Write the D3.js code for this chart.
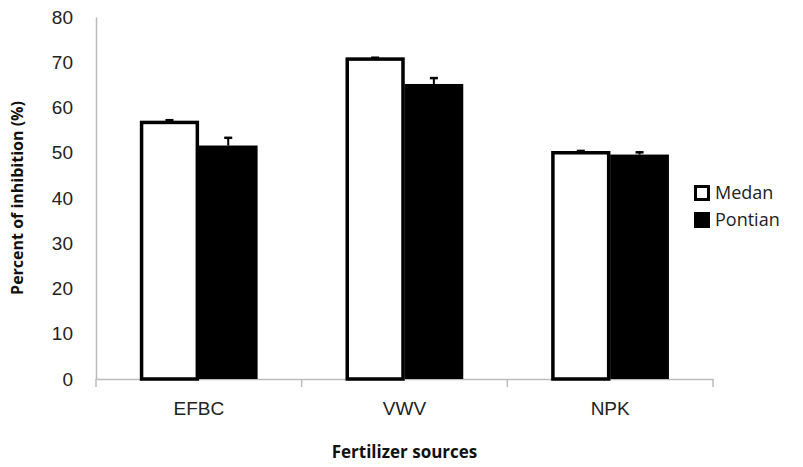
<!DOCTYPE html>
<html lang="en">
<head>
<meta charset="UTF-8">
<style>
  body { margin: 0; padding: 0; background: #fff; overflow: hidden; }
  svg { display: block; font-family: "Open Sans", Arial, sans-serif; }
  .tick text { fill: #222; font-size: 19px; }
</style>
</head>
<body>
<svg id="chart" width="803" height="467"></svg>
<script src="https://cdn.jsdelivr.net/npm/d3@7"></script>
<script>
  const categories = ["EFBC", "VWV", "NPK"];
  const series = ["Medan", "Pontian"];
  const medanValues = [56.7, 70.7, 50.0];
  const medanErrors = [0.5, 0.3, 0.4];
  const pontianValues = [51.6, 65.2, 49.6];
  const pontianErrors = [1.7, 1.3, 0.5];
  const yTicks = [0, 10, 20, 30, 40, 50, 60, 70, 80];

  const svg = d3.select("#chart");
  const margin = { left: 96, right: 90, top: 17, bottom: 88 };
  const width = 803, height = 467;

  const x = d3.scaleBand().domain(categories).range([margin.left, width - margin.right]);
  const xSub = d3.scaleBand().domain(series).range([0, x.bandwidth()]).paddingOuter(0.75).paddingInner(0);
  const y = d3.scaleLinear().domain([0, 80]).range([height - margin.bottom, margin.top]);

  // axes
  const yAxis = svg.append("g")
    .attr("transform", `translate(${margin.left},0)`)
    .call(d3.axisLeft(y).tickValues(yTicks).tickSize(0).tickPadding(23));
  yAxis.select(".domain").attr("stroke", "#bbb").attr("stroke-width", 1.5);

  const xAxis = svg.append("g")
    .attr("transform", `translate(0,${y(0)})`)
    .call(d3.axisBottom(x).tickSize(0).tickPadding(23));
  xAxis.select(".domain").attr("stroke", "#bbb").attr("stroke-width", 1.5);
  // category boundary ticks
  const bounds = categories.map(c => x(c)).concat([x.range()[1]]);
  svg.append("g").selectAll("line").data(bounds).join("line")
    .attr("x1", d => d).attr("x2", d => d)
    .attr("y1", y(0)).attr("y2", y(0) + 8)
    .attr("stroke", "#bbb").attr("stroke-width", 1.5);

  const rows = categories.map((c, i) => ({
    cat: c,
    bars: [
      { key: "Medan", v: medanValues[i], e: medanErrors[i] },
      { key: "Pontian", v: pontianValues[i], e: pontianErrors[i] }
    ]
  }));

  const groups = svg.append("g").selectAll("g").data(rows).join("g")
    .attr("transform", d => `translate(${x(d.cat)},0)`);

  groups.selectAll("rect").data(d => d.bars).join("rect")
    .attr("x", d => xSub(d.key) + (d.key === "Medan" ? 1.5 : 0))
    .attr("width", d => xSub.bandwidth() - (d.key === "Medan" ? 3 : 0))
    .attr("y", d => y(d.v))
    .attr("height", d => y(0) - y(d.v))
    .attr("fill", d => d.key === "Medan" ? "#fff" : "#000")
    .attr("stroke", "#000")
    .attr("stroke-width", d => d.key === "Medan" ? 3.5 : 0);

  // error bars (upper only)
  const err = groups.selectAll("g.err").data(d => d.bars).join("g").attr("class", "err");
  err.append("line")
    .attr("x1", d => xSub(d.key) + xSub.bandwidth() / 2)
    .attr("x2", d => xSub(d.key) + xSub.bandwidth() / 2)
    .attr("y1", d => y(d.v))
    .attr("y2", d => y(d.v + d.e))
    .attr("stroke", "#000").attr("stroke-width", 2);
  err.append("line")
    .attr("x1", d => xSub(d.key) + xSub.bandwidth() / 2 - 4)
    .attr("x2", d => xSub(d.key) + xSub.bandwidth() / 2 + 4)
    .attr("y1", d => y(d.v + d.e))
    .attr("y2", d => y(d.v + d.e))
    .attr("stroke", "#000").attr("stroke-width", 2.5);

  // axis titles
  svg.append("text")
    .attr("transform", `translate(23,${(y(0) + y(80)) / 2}) rotate(-90)`)
    .attr("text-anchor", "middle")
    .attr("font-size", 16).attr("font-weight", "bold").attr("fill", "#111")
    .text("Percent of inhibition (%)");
  svg.append("text")
    .attr("x", (x.range()[0] + x.range()[1]) / 2)
    .attr("y", 458)
    .attr("text-anchor", "middle")
    .attr("font-size", 17).attr("font-weight", "bold").attr("fill", "#111")
    .text("Fertilizer sources");

  // legend
  const legend = svg.append("g").attr("transform", "translate(694,185)");
  const li = legend.selectAll("g").data(series).join("g")
    .attr("transform", (d, i) => `translate(0,${i * 27})`);
  li.append("rect")
    .attr("x", d => d === "Medan" ? 1.5 : 0)
    .attr("y", d => d === "Medan" ? 1.5 : 0)
    .attr("width", d => d === "Medan" ? 13 : 16)
    .attr("height", d => d === "Medan" ? 13 : 16)
    .attr("fill", d => d === "Medan" ? "#fff" : "#000")
    .attr("stroke", "#000")
    .attr("stroke-width", d => d === "Medan" ? 3 : 0);
  li.append("text")
    .attr("x", 21).attr("y", 8).attr("dy", "0.35em")
    .attr("font-size", 18).attr("fill", "#222")
    .text(d => d);
</script>
</body>
</html>
